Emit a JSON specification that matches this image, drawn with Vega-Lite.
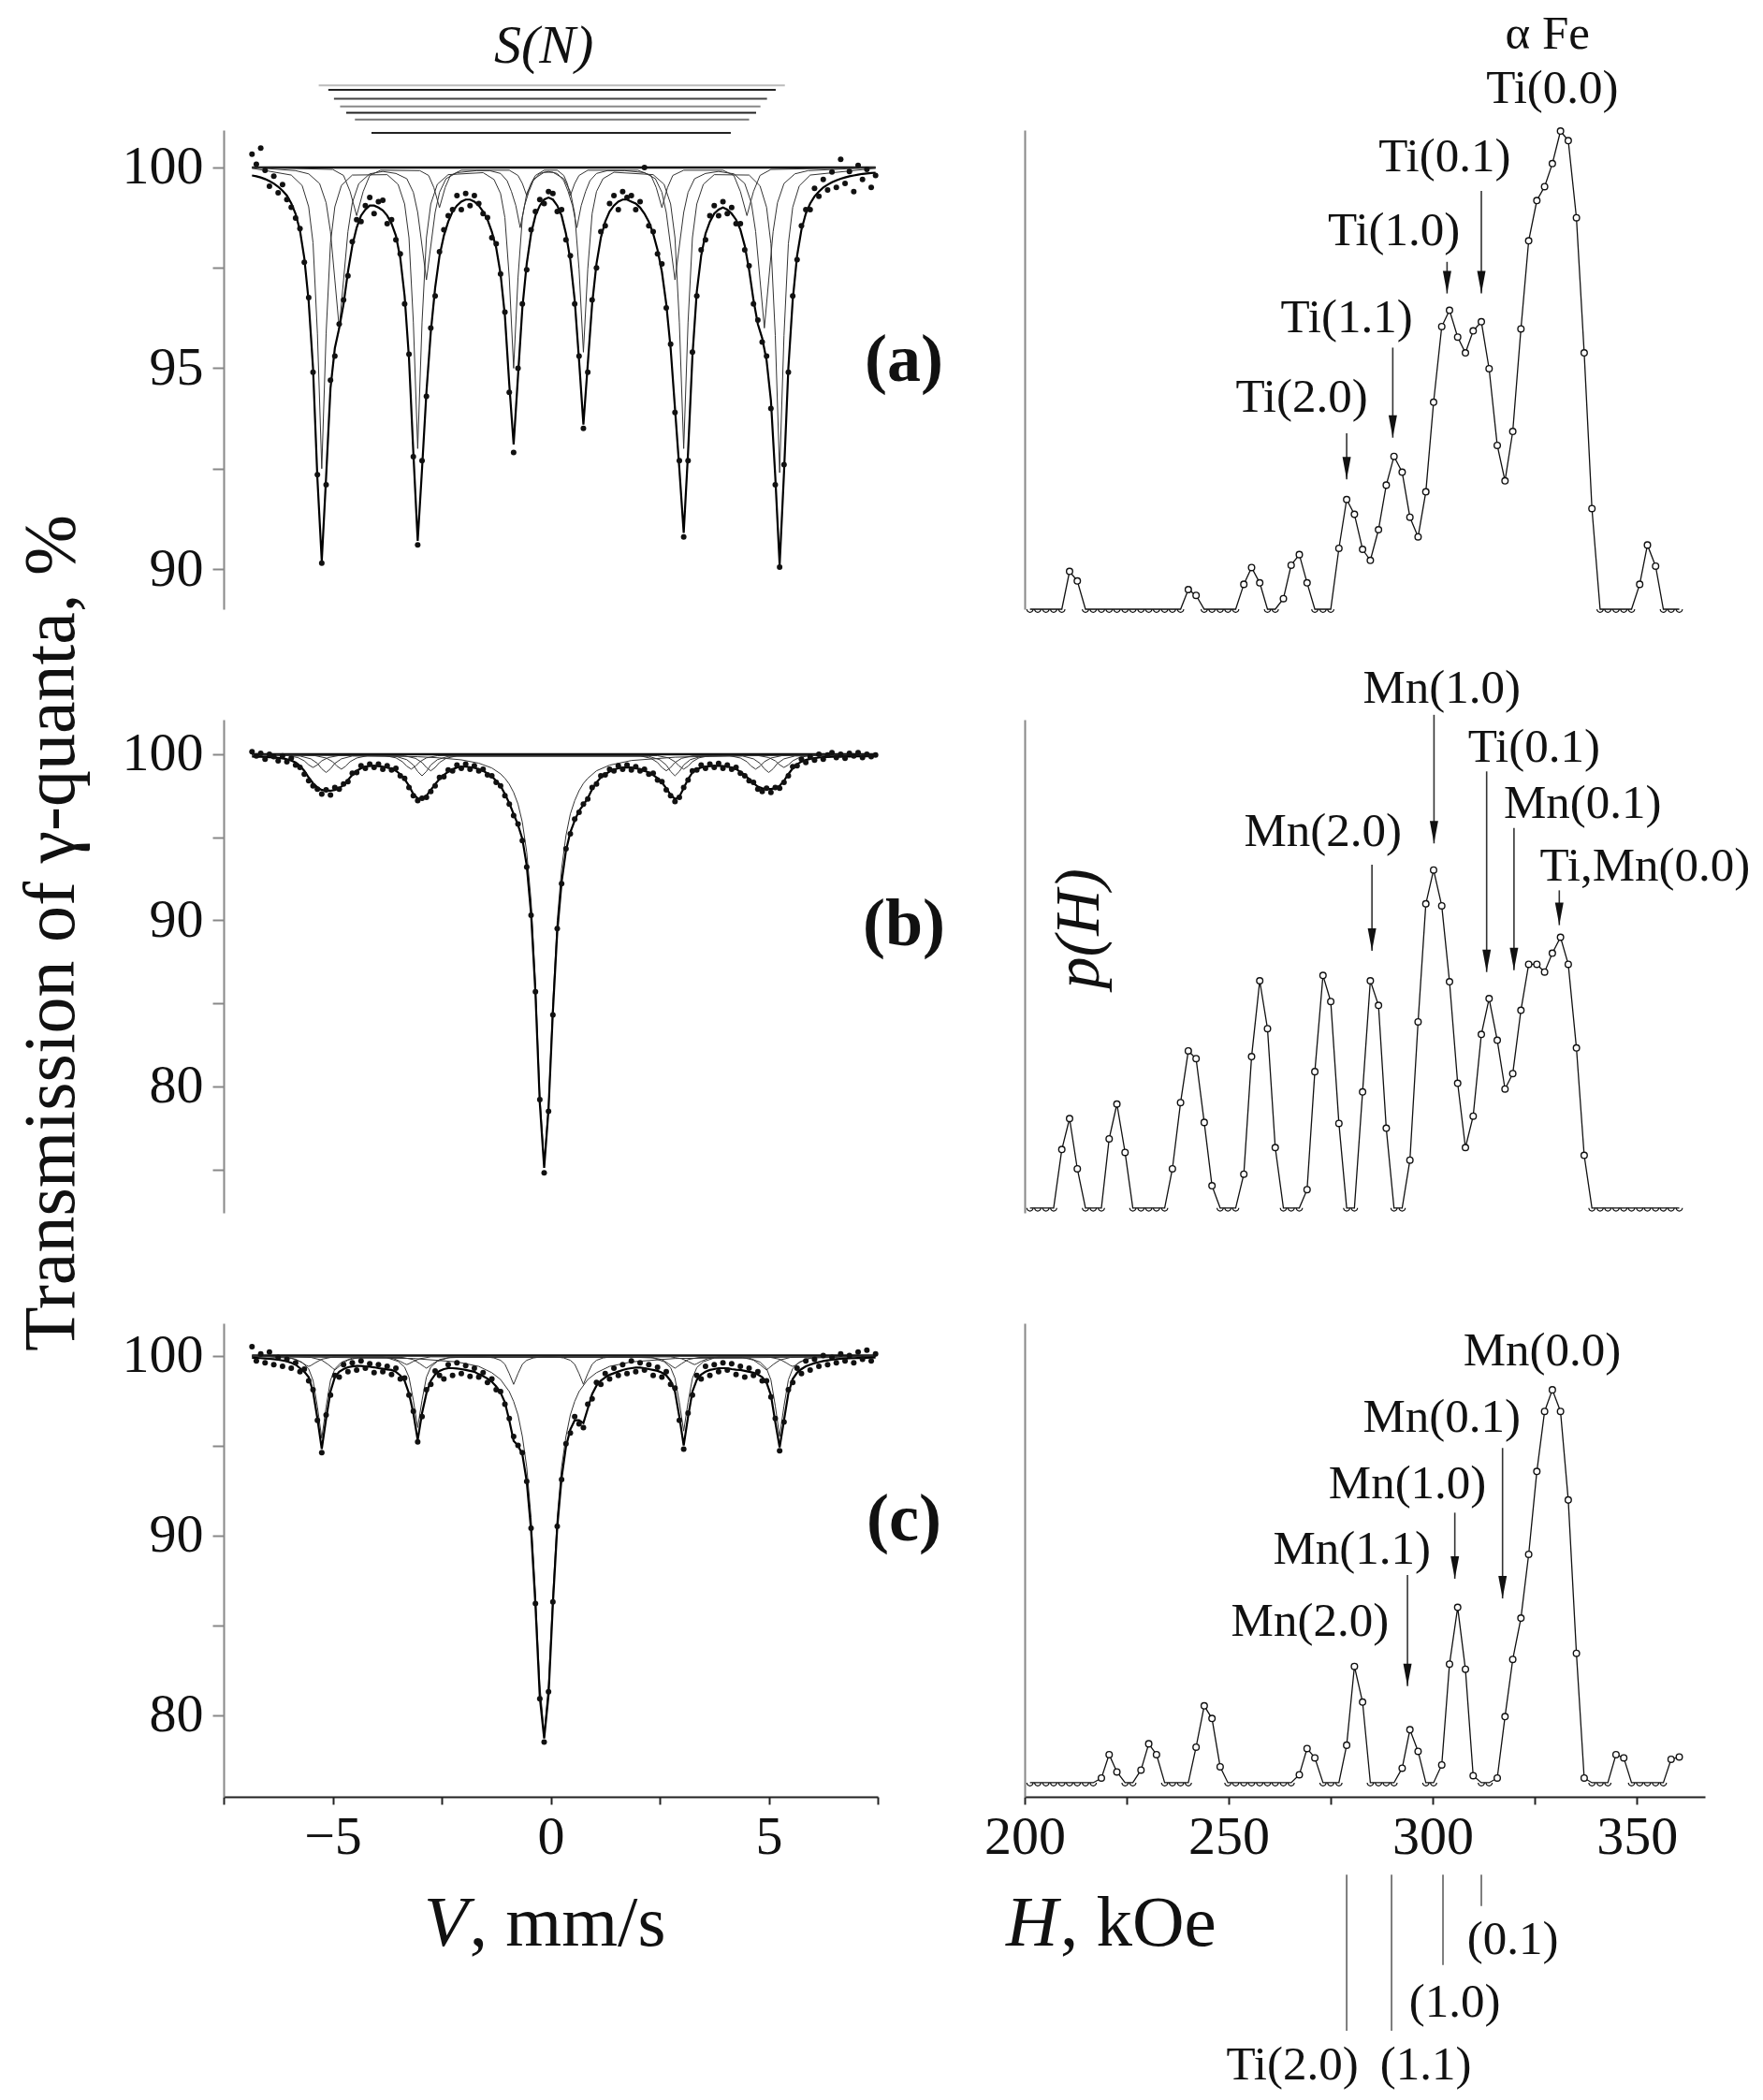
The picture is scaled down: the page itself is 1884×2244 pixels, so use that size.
{
"$schema": "https://vega.github.io/schema/vega-lite/v6.json",
"background": "white",
"padding": {"left": 16, "top": 11, "right": 5, "bottom": 5},
"bounds": "flush",
"columns": 2,
"spacing": {"row": 118, "column": 157},
"config": {"view": {"stroke": null}, "font": "Liberation Serif", "axis": {"labelFont": "Liberation Serif", "labelColor": "#111", "grid": false, "labelOverlap": false, "labelFlush": false}},
"datasets": {
"base": [{"v": -6.85, "v2": 7.45, "t": 100}],
"sn": [
{"v": -5.32, "v2": 5.37, "t": 102.04, "n": "L0"},
{"v": -5.10, "v2": 5.16, "t": 101.93, "n": "L1"},
{"v": -4.97, "v2": 4.96, "t": 101.71, "n": "L2"},
{"v": -4.83, "v2": 4.81, "t": 101.52, "n": "L3"},
{"v": -4.69, "v2": 4.71, "t": 101.36, "n": "L4"},
{"v": -4.49, "v2": 4.55, "t": 101.19, "n": "L5"},
{"v": -4.11, "v2": 4.13, "t": 100.86, "n": "L6"}
],
"spec_a": [
{"v":-6.85,"f":99.80,"o":100.33},{"v":-6.75,"f":99.78,"o":100.08},{"v":-6.65,"f":99.75,"o":100.48},{"v":-6.55,"f":99.71,"o":99.93},{"v":-6.45,"f":99.66,"o":99.53},{"v":-6.35,"f":99.60,"o":99.78},{"v":-6.25,"f":99.52,"o":99.37},{"v":-6.15,"f":99.42,"o":99.57},{"v":-6.05,"f":99.30,"o":99.20},{"v":-5.95,"f":99.11,"o":99.01},
{"v":-5.85,"f":98.84,"o":98.74},{"v":-5.75,"f":98.43,"o":98.48},{"v":-5.65,"f":97.74,"o":97.64},{"v":-5.55,"f":96.66,"o":96.76},{"v":-5.45,"f":95.00,"o":94.90},{"v":-5.35,"f":92.25,"o":92.35},{"v":-5.25,"f":90.20,"o":90.15},{"v":-5.15,"f":92.30,"o":92.10},{"v":-5.05,"f":94.50,"o":94.70},{"v":-4.95,"f":95.50,"o":95.30},
{"v":-4.85,"f":96.00,"o":96.10},{"v":-4.75,"f":96.60,"o":96.70},{"v":-4.65,"f":97.40,"o":97.30},{"v":-4.55,"f":98.05,"o":98.15},{"v":-4.45,"f":98.50,"o":98.70},{"v":-4.35,"f":98.80,"o":98.65},{"v":-4.25,"f":98.95,"o":99.05},{"v":-4.15,"f":99.05,"o":99.25},{"v":-4.05,"f":99.05,"o":98.85},{"v":-3.95,"f":99.00,"o":99.15},
{"v":-3.85,"f":98.93,"o":99.18},{"v":-3.75,"f":98.80,"o":98.60},{"v":-3.65,"f":98.60,"o":98.70},{"v":-3.55,"f":98.30,"o":98.20},{"v":-3.45,"f":97.75,"o":97.85},{"v":-3.35,"f":96.80,"o":96.60},{"v":-3.25,"f":95.25,"o":95.35},{"v":-3.15,"f":92.90,"o":92.80},{"v":-3.05,"f":90.70,"o":90.60},{"v":-2.95,"f":92.50,"o":92.70},
{"v":-2.85,"f":94.40,"o":94.30},{"v":-2.75,"f":95.90,"o":96.00},{"v":-2.65,"f":97.00,"o":96.80},{"v":-2.55,"f":97.80,"o":97.90},{"v":-2.45,"f":98.30,"o":98.45},{"v":-2.35,"f":98.65,"o":98.80},{"v":-2.25,"f":98.90,"o":98.95},{"v":-2.15,"f":99.05,"o":99.30},{"v":-2.05,"f":99.15,"o":98.95},{"v":-1.95,"f":99.20,"o":99.35},
{"v":-1.85,"f":99.20,"o":99.05},{"v":-1.75,"f":99.15,"o":99.30},{"v":-1.65,"f":99.05,"o":99.10},{"v":-1.55,"f":98.90,"o":98.85},{"v":-1.45,"f":98.70,"o":98.75},{"v":-1.35,"f":98.40,"o":98.25},{"v":-1.25,"f":98.00,"o":98.10},{"v":-1.15,"f":97.35,"o":97.35},{"v":-1.05,"f":96.30,"o":96.40},{"v":-0.95,"f":94.60,"o":94.40},
{"v":-0.85,"f":93.10,"o":92.90},{"v":-0.75,"f":94.80,"o":95.00},{"v":-0.65,"f":96.50,"o":96.60},{"v":-0.55,"f":97.60,"o":97.45},{"v":-0.45,"f":98.35,"o":98.45},{"v":-0.35,"f":98.80,"o":98.90},{"v":-0.25,"f":99.05,"o":99.20},{"v":-0.15,"f":99.20,"o":99.10},{"v":-0.05,"f":99.25,"o":99.40},{"v":0.05,"f":99.20,"o":99.35},
{"v":0.15,"f":99.05,"o":98.90},{"v":0.25,"f":98.80,"o":98.95},{"v":0.35,"f":98.35,"o":98.20},{"v":0.45,"f":97.70,"o":97.80},{"v":0.55,"f":96.70,"o":96.60},{"v":0.65,"f":95.20,"o":95.30},{"v":0.75,"f":93.60,"o":93.50},{"v":0.85,"f":95.10,"o":94.90},{"v":0.95,"f":96.60,"o":96.70},{"v":1.05,"f":97.60,"o":97.50},
{"v":1.15,"f":98.25,"o":98.40},{"v":1.25,"f":98.65,"o":98.55},{"v":1.35,"f":98.90,"o":99.10},{"v":1.45,"f":99.05,"o":99.30},{"v":1.55,"f":99.15,"o":98.95},{"v":1.65,"f":99.20,"o":99.40},{"v":1.75,"f":99.20,"o":99.25},{"v":1.85,"f":99.15,"o":99.30},{"v":1.95,"f":99.10,"o":98.95},{"v":2.05,"f":99.00,"o":99.15},
{"v":2.15,"f":98.85,"o":100.00},{"v":2.25,"f":98.65,"o":98.55},{"v":2.35,"f":98.35,"o":98.40},{"v":2.45,"f":97.95,"o":97.85},{"v":2.55,"f":97.40,"o":97.60},{"v":2.65,"f":96.60,"o":96.50},{"v":2.75,"f":95.50,"o":95.60},{"v":2.85,"f":94.00,"o":93.90},{"v":2.95,"f":92.50,"o":92.70},{"v":3.05,"f":90.90,"o":90.80},
{"v":3.15,"f":92.90,"o":92.70},{"v":3.25,"f":95.30,"o":95.40},{"v":3.35,"f":96.90,"o":96.80},{"v":3.45,"f":97.80,"o":97.95},{"v":3.55,"f":98.35,"o":98.20},{"v":3.65,"f":98.65,"o":98.80},{"v":3.75,"f":98.85,"o":99.05},{"v":3.85,"f":98.95,"o":98.80},{"v":3.95,"f":99.00,"o":99.15},{"v":4.05,"f":98.95,"o":98.85},
{"v":4.15,"f":98.85,"o":99.00},{"v":4.25,"f":98.70,"o":98.60},{"v":4.35,"f":98.45,"o":98.60},{"v":4.45,"f":98.05,"o":97.95},{"v":4.55,"f":97.45,"o":97.55},{"v":4.65,"f":96.70,"o":96.60},{"v":4.75,"f":96.10,"o":96.20},{"v":4.85,"f":95.75,"o":95.65},{"v":4.95,"f":95.20,"o":95.30},{"v":5.05,"f":94.20,"o":94.00},
{"v":5.15,"f":92.30,"o":92.10},{"v":5.25,"f":90.10,"o":90.05},{"v":5.35,"f":92.40,"o":92.60},{"v":5.45,"f":95.00,"o":94.90},{"v":5.55,"f":96.70,"o":96.80},{"v":5.65,"f":97.80,"o":97.70},{"v":5.75,"f":98.45,"o":98.55},{"v":5.85,"f":98.85,"o":98.95},{"v":5.95,"f":99.10,"o":98.95},{"v":6.05,"f":99.28,"o":99.48},
{"v":6.15,"f":99.40,"o":99.28},{"v":6.25,"f":99.50,"o":99.70},{"v":6.35,"f":99.57,"o":99.44},{"v":6.45,"f":99.63,"o":99.89},{"v":6.55,"f":99.68,"o":99.50},{"v":6.65,"f":99.72,"o":100.20},{"v":6.75,"f":99.75,"o":99.60},{"v":6.85,"f":99.78,"o":99.90},{"v":6.95,"f":99.80,"o":99.40},{"v":7.05,"f":99.82,"o":100.05},
{"v":7.15,"f":99.84,"o":99.70},{"v":7.25,"f":99.85,"o":99.95},{"v":7.35,"f":99.86,"o":99.50},{"v":7.45,"f":99.87,"o":99.80}
],
"sub_a": [
{"v":-6.85,"t":100,"c":"a1"},{"v":-5.85,"t":99.92,"c":"a1"},{"v":-5.55,"t":99.84,"c":"a1"},{"v":-5.3,"t":99.6,"c":"a1"},{"v":-5.15,"t":99.12,"c":"a1"},{"v":-5.05,"t":98.4,"c":"a1"},{"v":-4.95,"t":97.2,"c":"a1"},{"v":-4.85,"t":96.0,"c":"a1"},{"v":-4.75,"t":97.2,"c":"a1"},{"v":-4.65,"t":98.4,"c":"a1"},{"v":-4.55,"t":99.12,"c":"a1"},{"v":-4.4,"t":99.6,"c":"a1"},{"v":-4.15,"t":99.84,"c":"a1"},{"v":-3.85,"t":99.9,"c":"a1"},{"v":-3.55,"t":99.85,"c":"a1"},{"v":-3.3,"t":99.72,"c":"a1"},{"v":-3.15,"t":99.38,"c":"a1"},{"v":-3.05,"t":98.88,"c":"a1"},{"v":-2.95,"t":98.04,"c":"a1"},{"v":-2.85,"t":97.2,"c":"a1"},{"v":-2.75,"t":98.04,"c":"a1"},{"v":-2.65,"t":98.88,"c":"a1"},{"v":-2.55,"t":99.38,"c":"a1"},{"v":-2.4,"t":99.72,"c":"a1"},{"v":-2.15,"t":99.87,"c":"a1"},{"v":-1.7,"t":99.92,"c":"a1"},{"v":-1.4,"t":99.92,"c":"a1"},{"v":-1.15,"t":99.85,"c":"a1"},{"v":-1.0,"t":99.67,"c":"a1"},{"v":-0.9,"t":99.4,"c":"a1"},{"v":-0.8,"t":99.05,"c":"a1"},{"v":-0.7,"t":98.5,"c":"a1"},{"v":-0.6,"t":99.05,"c":"a1"},{"v":-0.5,"t":99.4,"c":"a1"},{"v":-0.4,"t":99.67,"c":"a1"},{"v":-0.25,"t":99.85,"c":"a1"},{"v":-0.05,"t":99.9,"c":"a1"},{"v":0.15,"t":99.85,"c":"a1"},{"v":0.3,"t":99.67,"c":"a1"},{"v":0.4,"t":99.4,"c":"a1"},{"v":0.5,"t":99.05,"c":"a1"},{"v":0.6,"t":98.5,"c":"a1"},{"v":0.7,"t":99.05,"c":"a1"},{"v":0.8,"t":99.4,"c":"a1"},{"v":0.9,"t":99.67,"c":"a1"},{"v":1.05,"t":99.85,"c":"a1"},{"v":1.3,"t":99.92,"c":"a1"},{"v":1.7,"t":99.92,"c":"a1"},{"v":2.15,"t":99.87,"c":"a1"},{"v":2.4,"t":99.72,"c":"a1"},{"v":2.55,"t":99.38,"c":"a1"},{"v":2.65,"t":98.88,"c":"a1"},{"v":2.75,"t":98.04,"c":"a1"},{"v":2.85,"t":97.2,"c":"a1"},{"v":2.95,"t":98.04,"c":"a1"},{"v":3.05,"t":98.88,"c":"a1"},{"v":3.15,"t":99.38,"c":"a1"},{"v":3.3,"t":99.72,"c":"a1"},{"v":3.55,"t":99.85,"c":"a1"},{"v":3.85,"t":99.9,"c":"a1"},{"v":4.2,"t":99.84,"c":"a1"},{"v":4.45,"t":99.6,"c":"a1"},{"v":4.6,"t":99.12,"c":"a1"},{"v":4.7,"t":98.4,"c":"a1"},{"v":4.8,"t":97.2,"c":"a1"},{"v":4.9,"t":96.0,"c":"a1"},{"v":5.0,"t":97.2,"c":"a1"},{"v":5.1,"t":98.4,"c":"a1"},{"v":5.2,"t":99.12,"c":"a1"},{"v":5.35,"t":99.6,"c":"a1"},{"v":5.6,"t":99.84,"c":"a1"},{"v":5.9,"t":99.92,"c":"a1"},{"v":7.45,"t":100,"c":"a1"},
{"v":-6.85,"t":100,"c":"a2"},{"v":-5.0,"t":99.95,"c":"a2"},{"v":-4.75,"t":99.8,"c":"a2"},{"v":-4.6,"t":99.4,"c":"a2"},{"v":-4.45,"t":98.8,"c":"a2"},{"v":-4.3,"t":99.4,"c":"a2"},{"v":-4.15,"t":99.8,"c":"a2"},{"v":-3.9,"t":99.93,"c":"a2"},{"v":-3.0,"t":99.92,"c":"a2"},{"v":-2.8,"t":99.8,"c":"a2"},{"v":-2.68,"t":99.5,"c":"a2"},{"v":-2.55,"t":99.0,"c":"a2"},{"v":-2.42,"t":99.5,"c":"a2"},{"v":-2.3,"t":99.8,"c":"a2"},{"v":-2.05,"t":99.93,"c":"a2"},{"v":-0.95,"t":99.93,"c":"a2"},{"v":-0.75,"t":99.8,"c":"a2"},{"v":-0.65,"t":99.6,"c":"a2"},{"v":-0.55,"t":99.3,"c":"a2"},{"v":-0.45,"t":99.6,"c":"a2"},{"v":-0.35,"t":99.8,"c":"a2"},{"v":-0.15,"t":99.93,"c":"a2"},{"v":0.15,"t":99.93,"c":"a2"},{"v":0.3,"t":99.8,"c":"a2"},{"v":0.38,"t":99.6,"c":"a2"},{"v":0.45,"t":99.3,"c":"a2"},{"v":0.55,"t":99.6,"c":"a2"},{"v":0.65,"t":99.8,"c":"a2"},{"v":0.85,"t":99.93,"c":"a2"},{"v":2.0,"t":99.93,"c":"a2"},{"v":2.3,"t":99.8,"c":"a2"},{"v":2.42,"t":99.5,"c":"a2"},{"v":2.55,"t":99.0,"c":"a2"},{"v":2.68,"t":99.5,"c":"a2"},{"v":2.8,"t":99.8,"c":"a2"},{"v":3.05,"t":99.93,"c":"a2"},{"v":3.95,"t":99.93,"c":"a2"},{"v":4.2,"t":99.8,"c":"a2"},{"v":4.35,"t":99.4,"c":"a2"},{"v":4.5,"t":98.8,"c":"a2"},{"v":4.65,"t":99.4,"c":"a2"},{"v":4.8,"t":99.8,"c":"a2"},{"v":5.05,"t":99.95,"c":"a2"},{"v":7.45,"t":100,"c":"a2"},
{"v":-6.85,"t":99.98,"c":"a3"},{"v":-5.95,"t":99.81,"c":"a3"},{"v":-5.7,"t":99.55,"c":"a3"},{"v":-5.55,"t":99.02,"c":"a3"},{"v":-5.45,"t":98.12,"c":"a3"},{"v":-5.35,"t":95.87,"c":"a3"},{"v":-5.25,"t":92.5,"c":"a3"},{"v":-5.15,"t":95.87,"c":"a3"},{"v":-5.05,"t":98.12,"c":"a3"},{"v":-4.95,"t":99.02,"c":"a3"},{"v":-4.8,"t":99.55,"c":"a3"},{"v":-4.55,"t":99.81,"c":"a3"},{"v":-3.75,"t":99.82,"c":"a3"},{"v":-3.5,"t":99.58,"c":"a3"},{"v":-3.35,"t":99.09,"c":"a3"},{"v":-3.25,"t":98.25,"c":"a3"},{"v":-3.15,"t":96.15,"c":"a3"},{"v":-3.05,"t":93.0,"c":"a3"},{"v":-2.95,"t":96.15,"c":"a3"},{"v":-2.85,"t":98.25,"c":"a3"},{"v":-2.75,"t":99.09,"c":"a3"},{"v":-2.6,"t":99.58,"c":"a3"},{"v":-2.35,"t":99.82,"c":"a3"},{"v":-1.55,"t":99.87,"c":"a3"},{"v":-1.3,"t":99.7,"c":"a3"},{"v":-1.15,"t":99.35,"c":"a3"},{"v":-1.05,"t":98.75,"c":"a3"},{"v":-0.95,"t":97.25,"c":"a3"},{"v":-0.85,"t":95.0,"c":"a3"},{"v":-0.75,"t":97.25,"c":"a3"},{"v":-0.65,"t":98.75,"c":"a3"},{"v":-0.55,"t":99.35,"c":"a3"},{"v":-0.4,"t":99.7,"c":"a3"},{"v":-0.15,"t":99.88,"c":"a3"},{"v":0.05,"t":99.88,"c":"a3"},{"v":0.3,"t":99.72,"c":"a3"},{"v":0.45,"t":99.4,"c":"a3"},{"v":0.55,"t":98.85,"c":"a3"},{"v":0.65,"t":97.47,"c":"a3"},{"v":0.75,"t":95.4,"c":"a3"},{"v":0.85,"t":97.47,"c":"a3"},{"v":0.95,"t":98.85,"c":"a3"},{"v":1.05,"t":99.4,"c":"a3"},{"v":1.2,"t":99.72,"c":"a3"},{"v":1.45,"t":99.88,"c":"a3"},{"v":2.35,"t":99.82,"c":"a3"},{"v":2.6,"t":99.58,"c":"a3"},{"v":2.75,"t":99.09,"c":"a3"},{"v":2.85,"t":98.25,"c":"a3"},{"v":2.95,"t":96.15,"c":"a3"},{"v":3.05,"t":93.0,"c":"a3"},{"v":3.15,"t":96.15,"c":"a3"},{"v":3.25,"t":98.25,"c":"a3"},{"v":3.35,"t":99.09,"c":"a3"},{"v":3.5,"t":99.58,"c":"a3"},{"v":3.75,"t":99.82,"c":"a3"},{"v":4.55,"t":99.81,"c":"a3"},{"v":4.8,"t":99.54,"c":"a3"},{"v":4.95,"t":99.01,"c":"a3"},{"v":5.05,"t":98.1,"c":"a3"},{"v":5.15,"t":95.82,"c":"a3"},{"v":5.25,"t":92.4,"c":"a3"},{"v":5.35,"t":95.82,"c":"a3"},{"v":5.45,"t":98.1,"c":"a3"},{"v":5.55,"t":99.01,"c":"a3"},{"v":5.7,"t":99.54,"c":"a3"},{"v":5.95,"t":99.81,"c":"a3"},{"v":7.45,"t":99.98,"c":"a3"}
],
"spec_b": [
{"v":-6.85,"f":99.86,"o":100.15},{"v":-6.75,"f":99.85,"o":99.90},{"v":-6.65,"f":99.84,"o":100.05},{"v":-6.55,"f":99.83,"o":99.70},{"v":-6.45,"f":99.82,"o":100.00},{"v":-6.35,"f":99.80,"o":99.85},{"v":-6.25,"f":99.78,"o":99.60},{"v":-6.15,"f":99.75,"o":99.90},{"v":-6.05,"f":99.70,"o":99.55},{"v":-5.95,"f":99.62,"o":99.75},
{"v":-5.85,"f":99.50,"o":99.35},{"v":-5.75,"f":99.30,"o":99.20},{"v":-5.65,"f":99.00,"o":98.80},{"v":-5.55,"f":98.60,"o":98.40},{"v":-5.45,"f":98.25,"o":98.10},{"v":-5.35,"f":98.00,"o":97.90},{"v":-5.25,"f":97.85,"o":97.60},{"v":-5.15,"f":97.80,"o":97.85},{"v":-5.05,"f":97.80,"o":97.55},{"v":-4.95,"f":97.85,"o":98.00},
{"v":-4.85,"f":97.95,"o":97.90},{"v":-4.75,"f":98.15,"o":98.20},{"v":-4.65,"f":98.45,"o":98.35},{"v":-4.55,"f":98.75,"o":98.85},{"v":-4.45,"f":99.00,"o":98.90},{"v":-4.35,"f":99.15,"o":99.30},{"v":-4.25,"f":99.25,"o":99.15},{"v":-4.15,"f":99.30,"o":99.40},{"v":-4.05,"f":99.30,"o":99.20},{"v":-3.95,"f":99.28,"o":99.40},
{"v":-3.85,"f":99.25,"o":99.10},{"v":-3.75,"f":99.20,"o":99.30},{"v":-3.65,"f":99.12,"o":99.05},{"v":-3.55,"f":99.00,"o":99.15},{"v":-3.45,"f":98.80,"o":98.70},{"v":-3.35,"f":98.50,"o":98.55},{"v":-3.25,"f":98.10,"o":98.00},{"v":-3.15,"f":97.60,"o":97.50},{"v":-3.05,"f":97.35,"o":97.20},{"v":-2.95,"f":97.30,"o":97.35},
{"v":-2.85,"f":97.50,"o":97.40},{"v":-2.75,"f":97.85,"o":97.75},{"v":-2.65,"f":98.20,"o":98.10},{"v":-2.55,"f":98.50,"o":98.60},{"v":-2.45,"f":98.75,"o":98.65},{"v":-2.35,"f":98.95,"o":99.05},{"v":-2.25,"f":99.10,"o":99.00},{"v":-2.15,"f":99.20,"o":99.35},{"v":-2.05,"f":99.25,"o":99.15},{"v":-1.95,"f":99.25,"o":99.40},
{"v":-1.85,"f":99.22,"o":99.10},{"v":-1.75,"f":99.18,"o":99.30},{"v":-1.65,"f":99.10,"o":99.00},{"v":-1.55,"f":99.00,"o":99.10},{"v":-1.45,"f":98.85,"o":98.75},{"v":-1.35,"f":98.65,"o":98.70},{"v":-1.25,"f":98.40,"o":98.30},{"v":-1.15,"f":98.10,"o":98.10},{"v":-1.05,"f":97.60,"o":97.50},{"v":-0.95,"f":97.05,"o":97.00},
{"v":-0.85,"f":96.40,"o":96.30},{"v":-0.75,"f":95.75,"o":95.80},{"v":-0.65,"f":94.90,"o":94.80},{"v":-0.55,"f":93.30,"o":93.20},{"v":-0.45,"f":90.40,"o":90.30},{"v":-0.35,"f":85.60,"o":85.70},{"v":-0.25,"f":79.00,"o":79.20},{"v":-0.15,"f":75.10,"o":74.80},{"v":-0.05,"f":78.60,"o":78.50},{"v":0.05,"f":84.50,"o":84.30},
{"v":0.15,"f":89.30,"o":89.50},{"v":0.25,"f":92.30,"o":92.20},{"v":0.35,"f":94.20,"o":94.30},{"v":0.45,"f":95.30,"o":95.20},{"v":0.55,"f":96.00,"o":96.10},{"v":0.65,"f":96.60,"o":96.50},{"v":0.75,"f":96.95,"o":97.00},{"v":0.85,"f":97.35,"o":97.30},{"v":0.95,"f":97.90,"o":98.00},{"v":1.05,"f":98.30,"o":98.20},
{"v":1.15,"f":98.60,"o":98.70},{"v":1.25,"f":98.80,"o":98.75},{"v":1.35,"f":98.95,"o":99.10},{"v":1.45,"f":99.08,"o":99.00},{"v":1.55,"f":99.15,"o":99.30},{"v":1.65,"f":99.20,"o":99.10},{"v":1.75,"f":99.20,"o":99.35},{"v":1.85,"f":99.20,"o":99.05},{"v":1.95,"f":99.15,"o":99.25},{"v":2.05,"f":99.10,"o":99.00},
{"v":2.15,"f":99.00,"o":99.10},{"v":2.25,"f":98.90,"o":98.80},{"v":2.35,"f":98.75,"o":98.85},{"v":2.45,"f":98.55,"o":98.45},{"v":2.55,"f":98.30,"o":98.35},{"v":2.65,"f":97.95,"o":97.85},{"v":2.75,"f":97.55,"o":97.50},{"v":2.85,"f":97.30,"o":97.15},{"v":2.95,"f":97.45,"o":97.40},{"v":3.05,"f":97.95,"o":98.00},
{"v":3.15,"f":98.50,"o":98.45},{"v":3.25,"f":98.90,"o":99.00},{"v":3.35,"f":99.10,"o":99.05},{"v":3.45,"f":99.20,"o":99.35},{"v":3.55,"f":99.25,"o":99.15},{"v":3.65,"f":99.28,"o":99.40},{"v":3.75,"f":99.30,"o":99.20},{"v":3.85,"f":99.30,"o":99.45},{"v":3.95,"f":99.28,"o":99.15},{"v":4.05,"f":99.25,"o":99.35},
{"v":4.15,"f":99.20,"o":99.10},{"v":4.25,"f":99.10,"o":99.20},{"v":4.35,"f":98.95,"o":98.85},{"v":4.45,"f":98.75,"o":98.70},{"v":4.55,"f":98.50,"o":98.40},{"v":4.65,"f":98.25,"o":98.30},{"v":4.75,"f":98.05,"o":97.90},{"v":4.85,"f":97.95,"o":97.75},{"v":4.95,"f":97.90,"o":97.95},{"v":5.05,"f":97.90,"o":97.70},
{"v":5.15,"f":97.95,"o":98.00},{"v":5.25,"f":98.10,"o":97.95},{"v":5.35,"f":98.40,"o":98.30},{"v":5.45,"f":98.80,"o":98.70},{"v":5.55,"f":99.15,"o":99.25},{"v":5.65,"f":99.40,"o":99.30},{"v":5.75,"f":99.55,"o":99.70},{"v":5.85,"f":99.65,"o":99.50},{"v":5.95,"f":99.72,"o":99.85},{"v":6.05,"f":99.76,"o":99.65},
{"v":6.15,"f":99.80,"o":100.00},{"v":6.25,"f":99.82,"o":99.70},{"v":6.35,"f":99.83,"o":99.95},{"v":6.45,"f":99.84,"o":100.10},{"v":6.55,"f":99.85,"o":99.80},{"v":6.65,"f":99.85,"o":100.00},{"v":6.75,"f":99.86,"o":99.75},{"v":6.85,"f":99.86,"o":100.05},{"v":6.95,"f":99.87,"o":99.90},{"v":7.05,"f":99.87,"o":100.10},
{"v":7.15,"f":99.88,"o":99.80},{"v":7.25,"f":99.88,"o":100.00},{"v":7.35,"f":99.88,"o":99.85},{"v":7.45,"f":99.89,"o":99.95}
],
"sub_b": [
{"v":-6.85,"t":99.95,"c":"s"},{"v":-4.05,"t":99.9,"c":"s"},{"v":-3.05,"t":99.85,"c":"s"},{"v":-2.55,"t":99.78,"c":"s"},{"v":-2.05,"t":99.66,"c":"s"},{"v":-1.65,"t":99.46,"c":"s"},{"v":-1.35,"t":99.17,"c":"s"},{"v":-1.15,"t":98.82,"c":"s"},{"v":-1.05,"t":98.55,"c":"s"},{"v":-0.95,"t":98.2,"c":"s"},{"v":-0.85,"t":97.7,"c":"s"},{"v":-0.75,"t":97.0,"c":"s"},{"v":-0.65,"t":95.9,"c":"s"},{"v":-0.55,"t":94.1,"c":"s"},{"v":-0.45,"t":91.2,"c":"s"},{"v":-0.35,"t":86.3,"c":"s"},{"v":-0.25,"t":79.5,"c":"s"},{"v":-0.15,"t":75.5,"c":"s"},{"v":-0.05,"t":78.9,"c":"s"},{"v":0.05,"t":85.1,"c":"s"},{"v":0.15,"t":90.0,"c":"s"},{"v":0.25,"t":93.1,"c":"s"},{"v":0.35,"t":95.1,"c":"s"},{"v":0.45,"t":96.4,"c":"s"},{"v":0.55,"t":97.2,"c":"s"},{"v":0.65,"t":97.8,"c":"s"},{"v":0.75,"t":98.24,"c":"s"},{"v":0.85,"t":98.55,"c":"s"},{"v":1.05,"t":99.0,"c":"s"},{"v":1.35,"t":99.34,"c":"s"},{"v":1.85,"t":99.62,"c":"s"},{"v":2.85,"t":99.82,"c":"s"},{"v":4.05,"t":99.9,"c":"s"},{"v":7.45,"t":99.95,"c":"s"},
{"v":-6.85,"t":99.97,"c":"b1"},{"v":-5.75,"t":99.89,"c":"b1"},{"v":-5.5,"t":99.72,"c":"b1"},{"v":-5.35,"t":99.45,"c":"b1"},{"v":-5.25,"t":99.12,"c":"b1"},{"v":-5.15,"t":98.9,"c":"b1"},{"v":-5.05,"t":99.12,"c":"b1"},{"v":-4.95,"t":99.45,"c":"b1"},{"v":-4.8,"t":99.72,"c":"b1"},{"v":-4.55,"t":99.89,"c":"b1"},{"v":-3.55,"t":99.87,"c":"b1"},{"v":-3.3,"t":99.67,"c":"b1"},{"v":-3.15,"t":99.35,"c":"b1"},{"v":-3.05,"t":98.96,"c":"b1"},{"v":-2.95,"t":98.7,"c":"b1"},{"v":-2.85,"t":98.96,"c":"b1"},{"v":-2.75,"t":99.35,"c":"b1"},{"v":-2.6,"t":99.67,"c":"b1"},{"v":-2.35,"t":99.87,"c":"b1"},{"v":2.25,"t":99.87,"c":"b1"},{"v":2.5,"t":99.67,"c":"b1"},{"v":2.65,"t":99.35,"c":"b1"},{"v":2.75,"t":98.96,"c":"b1"},{"v":2.85,"t":98.7,"c":"b1"},{"v":2.95,"t":98.96,"c":"b1"},{"v":3.05,"t":99.35,"c":"b1"},{"v":3.2,"t":99.67,"c":"b1"},{"v":3.45,"t":99.87,"c":"b1"},{"v":4.4,"t":99.89,"c":"b1"},{"v":4.65,"t":99.72,"c":"b1"},{"v":4.8,"t":99.45,"c":"b1"},{"v":4.9,"t":99.12,"c":"b1"},{"v":5.0,"t":98.9,"c":"b1"},{"v":5.1,"t":99.12,"c":"b1"},{"v":5.2,"t":99.45,"c":"b1"},{"v":5.35,"t":99.72,"c":"b1"},{"v":5.6,"t":99.89,"c":"b1"},{"v":7.45,"t":99.97,"c":"b1"},
{"v":-6.85,"t":99.98,"c":"b2"},{"v":-5.4,"t":99.91,"c":"b2"},{"v":-5.15,"t":99.77,"c":"b2"},{"v":-5.0,"t":99.55,"c":"b2"},{"v":-4.9,"t":99.28,"c":"b2"},{"v":-4.8,"t":99.1,"c":"b2"},{"v":-4.7,"t":99.28,"c":"b2"},{"v":-4.6,"t":99.55,"c":"b2"},{"v":-4.45,"t":99.77,"c":"b2"},{"v":-4.2,"t":99.91,"c":"b2"},{"v":-3.35,"t":99.9,"c":"b2"},{"v":-3.1,"t":99.75,"c":"b2"},{"v":-2.95,"t":99.5,"c":"b2"},{"v":-2.85,"t":99.2,"c":"b2"},{"v":-2.75,"t":99.0,"c":"b2"},{"v":-2.65,"t":99.2,"c":"b2"},{"v":-2.55,"t":99.5,"c":"b2"},{"v":-2.4,"t":99.75,"c":"b2"},{"v":-2.15,"t":99.9,"c":"b2"},{"v":2.05,"t":99.9,"c":"b2"},{"v":2.3,"t":99.75,"c":"b2"},{"v":2.45,"t":99.5,"c":"b2"},{"v":2.55,"t":99.2,"c":"b2"},{"v":2.65,"t":99.0,"c":"b2"},{"v":2.75,"t":99.2,"c":"b2"},{"v":2.85,"t":99.5,"c":"b2"},{"v":3.0,"t":99.75,"c":"b2"},{"v":3.25,"t":99.9,"c":"b2"},{"v":4.1,"t":99.91,"c":"b2"},{"v":4.35,"t":99.77,"c":"b2"},{"v":4.5,"t":99.55,"c":"b2"},{"v":4.6,"t":99.28,"c":"b2"},{"v":4.7,"t":99.1,"c":"b2"},{"v":4.8,"t":99.28,"c":"b2"},{"v":4.9,"t":99.55,"c":"b2"},{"v":5.05,"t":99.77,"c":"b2"},{"v":5.3,"t":99.91,"c":"b2"},{"v":7.45,"t":99.98,"c":"b2"},
{"v":-6.85,"t":99.98,"c":"b3"},{"v":-6.05,"t":99.92,"c":"b3"},{"v":-5.8,"t":99.8,"c":"b3"},{"v":-5.65,"t":99.6,"c":"b3"},{"v":-5.55,"t":99.36,"c":"b3"},{"v":-5.45,"t":99.2,"c":"b3"},{"v":-5.35,"t":99.36,"c":"b3"},{"v":-5.25,"t":99.6,"c":"b3"},{"v":-5.1,"t":99.8,"c":"b3"},{"v":-4.85,"t":99.92,"c":"b3"},{"v":-3.8,"t":99.91,"c":"b3"},{"v":-3.55,"t":99.78,"c":"b3"},{"v":-3.4,"t":99.55,"c":"b3"},{"v":-3.3,"t":99.28,"c":"b3"},{"v":-3.2,"t":99.1,"c":"b3"},{"v":-3.1,"t":99.28,"c":"b3"},{"v":-3.0,"t":99.55,"c":"b3"},{"v":-2.85,"t":99.78,"c":"b3"},{"v":-2.6,"t":99.91,"c":"b3"},{"v":2.45,"t":99.91,"c":"b3"},{"v":2.7,"t":99.78,"c":"b3"},{"v":2.85,"t":99.55,"c":"b3"},{"v":2.95,"t":99.28,"c":"b3"},{"v":3.05,"t":99.1,"c":"b3"},{"v":3.15,"t":99.28,"c":"b3"},{"v":3.25,"t":99.55,"c":"b3"},{"v":3.4,"t":99.78,"c":"b3"},{"v":3.65,"t":99.91,"c":"b3"},{"v":4.75,"t":99.92,"c":"b3"},{"v":5.0,"t":99.8,"c":"b3"},{"v":5.15,"t":99.6,"c":"b3"},{"v":5.25,"t":99.36,"c":"b3"},{"v":5.35,"t":99.2,"c":"b3"},{"v":5.45,"t":99.36,"c":"b3"},{"v":5.55,"t":99.6,"c":"b3"},{"v":5.7,"t":99.8,"c":"b3"},{"v":5.95,"t":99.92,"c":"b3"},{"v":7.45,"t":99.98,"c":"b3"}
],
"spec_c": [
{"v":-6.85,"f":99.88,"o":100.50},{"v":-6.75,"f":99.87,"o":99.70},{"v":-6.65,"f":99.86,"o":100.10},{"v":-6.55,"f":99.84,"o":99.60},{"v":-6.45,"f":99.82,"o":100.20},{"v":-6.35,"f":99.80,"o":99.50},{"v":-6.25,"f":99.77,"o":99.90},{"v":-6.15,"f":99.73,"o":99.40},{"v":-6.05,"f":99.68,"o":99.80},{"v":-5.95,"f":99.60,"o":99.30},
{"v":-5.85,"f":99.50,"o":99.60},{"v":-5.75,"f":99.30,"o":99.10},{"v":-5.65,"f":99.10,"o":99.25},{"v":-5.55,"f":98.80,"o":98.60},{"v":-5.45,"f":98.00,"o":98.10},{"v":-5.35,"f":96.50,"o":96.40},{"v":-5.25,"f":94.80,"o":94.60},{"v":-5.15,"f":96.50,"o":96.70},{"v":-5.05,"f":98.00,"o":97.80},{"v":-4.95,"f":98.80,"o":98.90},
{"v":-4.85,"f":99.10,"o":98.80},{"v":-4.75,"f":99.25,"o":99.50},{"v":-4.65,"f":99.35,"o":99.10},{"v":-4.55,"f":99.40,"o":99.60},{"v":-4.45,"f":99.42,"o":99.20},{"v":-4.35,"f":99.42,"o":99.70},{"v":-4.25,"f":99.40,"o":99.30},{"v":-4.15,"f":99.38,"o":99.55},{"v":-4.05,"f":99.35,"o":99.05},{"v":-3.95,"f":99.30,"o":99.50},
{"v":-3.85,"f":99.27,"o":99.10},{"v":-3.75,"f":99.23,"o":99.40},{"v":-3.65,"f":99.20,"o":98.95},{"v":-3.55,"f":99.10,"o":99.30},{"v":-3.45,"f":98.90,"o":98.70},{"v":-3.35,"f":98.60,"o":98.75},{"v":-3.25,"f":97.90,"o":97.80},{"v":-3.15,"f":96.80,"o":96.90},{"v":-3.05,"f":95.30,"o":95.20},{"v":-2.95,"f":96.80,"o":96.60},
{"v":-2.85,"f":97.90,"o":98.10},{"v":-2.75,"f":98.60,"o":98.40},{"v":-2.65,"f":98.95,"o":99.15},{"v":-2.55,"f":99.15,"o":98.90},{"v":-2.45,"f":99.25,"o":98.70},{"v":-2.35,"f":99.30,"o":99.50},{"v":-2.25,"f":99.30,"o":98.90},{"v":-2.15,"f":99.28,"o":99.60},{"v":-2.05,"f":99.25,"o":99.00},{"v":-1.95,"f":99.20,"o":99.45},
{"v":-1.85,"f":99.15,"o":98.85},{"v":-1.75,"f":99.10,"o":99.30},{"v":-1.65,"f":98.97,"o":98.80},{"v":-1.55,"f":98.86,"o":99.05},{"v":-1.45,"f":98.72,"o":98.50},{"v":-1.35,"f":98.54,"o":98.70},{"v":-1.25,"f":98.29,"o":98.10},{"v":-1.15,"f":97.94,"o":98.00},{"v":-1.05,"f":97.40,"o":97.30},{"v":-0.95,"f":96.40,"o":96.50},
{"v":-0.85,"f":95.25,"o":95.50},{"v":-0.75,"f":95.00,"o":95.00},{"v":-0.65,"f":94.50,"o":94.60},{"v":-0.55,"f":93.00,"o":93.00},{"v":-0.45,"f":90.30,"o":90.40},{"v":-0.35,"f":86.10,"o":86.20},{"v":-0.25,"f":81.00,"o":80.90},{"v":-0.15,"f":78.70,"o":78.50},{"v":-0.05,"f":81.10,"o":81.30},{"v":0.05,"f":86.17,"o":86.30},
{"v":0.15,"f":90.45,"o":90.50},{"v":0.25,"f":93.20,"o":93.10},{"v":0.35,"f":94.93,"o":95.10},{"v":0.45,"f":95.89,"o":95.70},{"v":0.55,"f":96.40,"o":96.60},{"v":0.65,"f":96.40,"o":96.20},{"v":0.75,"f":96.25,"o":96.00},{"v":0.85,"f":97.05,"o":97.30},{"v":0.95,"f":97.86,"o":97.60},{"v":1.05,"f":98.33,"o":98.50},
{"v":1.15,"f":98.61,"o":98.40},{"v":1.25,"f":98.79,"o":99.00},{"v":1.35,"f":98.93,"o":98.70},{"v":1.45,"f":99.02,"o":99.30},{"v":1.55,"f":99.11,"o":98.90},{"v":1.65,"f":99.20,"o":99.50},{"v":1.75,"f":99.26,"o":99.00},{"v":1.85,"f":99.30,"o":99.70},{"v":1.95,"f":99.33,"o":99.10},{"v":2.05,"f":99.33,"o":99.60},
{"v":2.15,"f":99.30,"o":99.20},{"v":2.25,"f":99.25,"o":99.50},{"v":2.35,"f":99.20,"o":98.90},{"v":2.45,"f":99.15,"o":99.35},{"v":2.55,"f":99.05,"o":98.80},{"v":2.65,"f":98.90,"o":99.10},{"v":2.75,"f":98.60,"o":98.40},{"v":2.85,"f":98.00,"o":98.20},{"v":2.95,"f":96.60,"o":96.40},{"v":3.05,"f":95.00,"o":94.80},
{"v":3.15,"f":96.60,"o":96.80},{"v":3.25,"f":98.00,"o":97.80},{"v":3.35,"f":98.65,"o":98.90},{"v":3.45,"f":98.95,"o":98.70},{"v":3.55,"f":99.10,"o":99.40},{"v":3.65,"f":99.20,"o":98.90},{"v":3.75,"f":99.25,"o":99.50},{"v":3.85,"f":99.30,"o":99.10},{"v":3.95,"f":99.30,"o":99.60},{"v":4.05,"f":99.30,"o":99.20},
{"v":4.15,"f":99.25,"o":99.55},{"v":4.25,"f":99.22,"o":98.95},{"v":4.35,"f":99.20,"o":99.40},{"v":4.45,"f":99.15,"o":98.80},{"v":4.55,"f":99.10,"o":99.30},{"v":4.65,"f":99.05,"o":98.90},{"v":4.75,"f":98.95,"o":99.10},{"v":4.85,"f":98.80,"o":98.60},{"v":4.95,"f":98.50,"o":98.60},{"v":5.05,"f":97.80,"o":97.70},
{"v":5.15,"f":96.30,"o":96.50},{"v":5.25,"f":94.90,"o":94.70},{"v":5.35,"f":96.40,"o":96.30},{"v":5.45,"f":97.90,"o":98.10},{"v":5.55,"f":98.70,"o":98.50},{"v":5.65,"f":99.05,"o":99.30},{"v":5.75,"f":99.25,"o":99.00},{"v":5.85,"f":99.40,"o":99.70},{"v":5.95,"f":99.50,"o":99.20},{"v":6.05,"f":99.58,"o":99.80},
{"v":6.15,"f":99.64,"o":99.40},{"v":6.25,"f":99.70,"o":100.00},{"v":6.35,"f":99.74,"o":99.50},{"v":6.45,"f":99.77,"o":99.90},{"v":6.55,"f":99.80,"o":99.60},{"v":6.65,"f":99.82,"o":100.10},{"v":6.75,"f":99.84,"o":99.70},{"v":6.85,"f":99.85,"o":100.00},{"v":6.95,"f":99.86,"o":99.60},{"v":7.05,"f":99.87,"o":100.20},
{"v":7.15,"f":99.88,"o":99.80},{"v":7.25,"f":99.88,"o":100.30},{"v":7.35,"f":99.89,"o":99.70},{"v":7.45,"f":99.89,"o":100.10}
],
"sub_c": [
{"v":-6.85,"t":99.96,"c":"s"},{"v":-3.15,"t":99.84,"c":"s"},{"v":-2.15,"t":99.65,"c":"s"},{"v":-1.65,"t":99.4,"c":"s"},{"v":-1.35,"t":99.05,"c":"s"},{"v":-1.15,"t":98.67,"c":"s"},{"v":-0.95,"t":98.0,"c":"s"},{"v":-0.85,"t":97.45,"c":"s"},{"v":-0.75,"t":96.7,"c":"s"},{"v":-0.65,"t":95.5,"c":"s"},{"v":-0.55,"t":93.8,"c":"s"},{"v":-0.45,"t":91.0,"c":"s"},{"v":-0.35,"t":86.8,"c":"s"},{"v":-0.25,"t":81.7,"c":"s"},{"v":-0.15,"t":79.0,"c":"s"},{"v":-0.05,"t":81.7,"c":"s"},{"v":0.05,"t":86.8,"c":"s"},{"v":0.15,"t":91.0,"c":"s"},{"v":0.25,"t":93.8,"c":"s"},{"v":0.35,"t":95.5,"c":"s"},{"v":0.45,"t":96.7,"c":"s"},{"v":0.55,"t":97.45,"c":"s"},{"v":0.65,"t":98.0,"c":"s"},{"v":0.85,"t":98.67,"c":"s"},{"v":1.05,"t":99.05,"c":"s"},{"v":1.35,"t":99.4,"c":"s"},{"v":1.85,"t":99.65,"c":"s"},{"v":2.85,"t":99.84,"c":"s"},{"v":7.45,"t":99.96,"c":"s"},
{"v":-6.85,"t":99.98,"c":"c1"},{"v":-5.95,"t":99.86,"c":"c1"},{"v":-5.7,"t":99.63,"c":"c1"},{"v":-5.55,"t":99.26,"c":"c1"},{"v":-5.45,"t":98.62,"c":"c1"},{"v":-5.35,"t":97.15,"c":"c1"},{"v":-5.25,"t":95.4,"c":"c1"},{"v":-5.15,"t":97.15,"c":"c1"},{"v":-5.05,"t":98.62,"c":"c1"},{"v":-4.95,"t":99.26,"c":"c1"},{"v":-4.8,"t":99.63,"c":"c1"},{"v":-4.55,"t":99.86,"c":"c1"},{"v":-3.75,"t":99.88,"c":"c1"},{"v":-3.5,"t":99.68,"c":"c1"},{"v":-3.35,"t":99.36,"c":"c1"},{"v":-3.25,"t":98.8,"c":"c1"},{"v":-3.15,"t":97.52,"c":"c1"},{"v":-3.05,"t":96.0,"c":"c1"},{"v":-2.95,"t":97.52,"c":"c1"},{"v":-2.85,"t":98.8,"c":"c1"},{"v":-2.75,"t":99.36,"c":"c1"},{"v":-2.6,"t":99.68,"c":"c1"},{"v":-2.35,"t":99.88,"c":"c1"},{"v":-1.55,"t":99.95,"c":"c1"},{"v":-1.3,"t":99.87,"c":"c1"},{"v":-1.15,"t":99.74,"c":"c1"},{"v":-1.05,"t":99.52,"c":"c1"},{"v":-0.95,"t":99.0,"c":"c1"},{"v":-0.85,"t":98.4,"c":"c1"},{"v":-0.75,"t":99.0,"c":"c1"},{"v":-0.65,"t":99.52,"c":"c1"},{"v":-0.55,"t":99.74,"c":"c1"},{"v":-0.4,"t":99.87,"c":"c1"},{"v":-0.15,"t":99.95,"c":"c1"},{"v":0.05,"t":99.95,"c":"c1"},{"v":0.3,"t":99.87,"c":"c1"},{"v":0.45,"t":99.74,"c":"c1"},{"v":0.55,"t":99.52,"c":"c1"},{"v":0.65,"t":99.0,"c":"c1"},{"v":0.75,"t":98.4,"c":"c1"},{"v":0.85,"t":99.0,"c":"c1"},{"v":0.95,"t":99.52,"c":"c1"},{"v":1.05,"t":99.74,"c":"c1"},{"v":1.2,"t":99.87,"c":"c1"},{"v":1.45,"t":99.95,"c":"c1"},{"v":2.35,"t":99.87,"c":"c1"},{"v":2.6,"t":99.66,"c":"c1"},{"v":2.75,"t":99.33,"c":"c1"},{"v":2.85,"t":98.74,"c":"c1"},{"v":2.95,"t":97.4,"c":"c1"},{"v":3.05,"t":95.8,"c":"c1"},{"v":3.15,"t":97.4,"c":"c1"},{"v":3.25,"t":98.74,"c":"c1"},{"v":3.35,"t":99.33,"c":"c1"},{"v":3.5,"t":99.66,"c":"c1"},{"v":3.75,"t":99.87,"c":"c1"},{"v":4.55,"t":99.86,"c":"c1"},{"v":4.8,"t":99.64,"c":"c1"},{"v":4.95,"t":99.28,"c":"c1"},{"v":5.05,"t":98.65,"c":"c1"},{"v":5.15,"t":97.2,"c":"c1"},{"v":5.25,"t":95.5,"c":"c1"},{"v":5.35,"t":97.2,"c":"c1"},{"v":5.45,"t":98.65,"c":"c1"},{"v":5.55,"t":99.28,"c":"c1"},{"v":5.7,"t":99.64,"c":"c1"},{"v":5.95,"t":99.86,"c":"c1"},{"v":7.45,"t":99.98,"c":"c1"},
{"v":-6.85,"t":99.98,"c":"c2"},{"v":-5.5,"t":99.9,"c":"c2"},{"v":-5.25,"t":99.75,"c":"c2"},{"v":-5.1,"t":99.5,"c":"c2"},{"v":-5.0,"t":99.3,"c":"c2"},{"v":-4.95,"t":99.2,"c":"c2"},{"v":-4.9,"t":99.3,"c":"c2"},{"v":-4.8,"t":99.5,"c":"c2"},{"v":-4.65,"t":99.75,"c":"c2"},{"v":-4.4,"t":99.9,"c":"c2"},{"v":-3.4,"t":99.9,"c":"c2"},{"v":-3.15,"t":99.78,"c":"c2"},{"v":-3.0,"t":99.55,"c":"c2"},{"v":-2.9,"t":99.38,"c":"c2"},{"v":-2.85,"t":99.3,"c":"c2"},{"v":-2.8,"t":99.38,"c":"c2"},{"v":-2.7,"t":99.55,"c":"c2"},{"v":-2.55,"t":99.78,"c":"c2"},{"v":-2.3,"t":99.9,"c":"c2"},{"v":2.3,"t":99.9,"c":"c2"},{"v":2.55,"t":99.78,"c":"c2"},{"v":2.7,"t":99.55,"c":"c2"},{"v":2.8,"t":99.38,"c":"c2"},{"v":2.85,"t":99.3,"c":"c2"},{"v":2.9,"t":99.38,"c":"c2"},{"v":3.0,"t":99.55,"c":"c2"},{"v":3.15,"t":99.78,"c":"c2"},{"v":3.4,"t":99.9,"c":"c2"},{"v":4.4,"t":99.9,"c":"c2"},{"v":4.65,"t":99.75,"c":"c2"},{"v":4.8,"t":99.5,"c":"c2"},{"v":4.9,"t":99.3,"c":"c2"},{"v":4.95,"t":99.2,"c":"c2"},{"v":5.0,"t":99.3,"c":"c2"},{"v":5.1,"t":99.5,"c":"c2"},{"v":5.25,"t":99.75,"c":"c2"},{"v":5.5,"t":99.9,"c":"c2"},{"v":7.45,"t":99.98,"c":"c2"},
{"v":-6.85,"t":99.98,"c":"c3"},{"v":-6.1,"t":99.92,"c":"c3"},{"v":-5.85,"t":99.8,"c":"c3"},{"v":-5.7,"t":99.6,"c":"c3"},{"v":-5.6,"t":99.45,"c":"c3"},{"v":-5.55,"t":99.4,"c":"c3"},{"v":-5.5,"t":99.45,"c":"c3"},{"v":-5.4,"t":99.6,"c":"c3"},{"v":-5.25,"t":99.8,"c":"c3"},{"v":-5.0,"t":99.92,"c":"c3"},{"v":-3.85,"t":99.93,"c":"c3"},{"v":-3.6,"t":99.83,"c":"c3"},{"v":-3.45,"t":99.68,"c":"c3"},{"v":-3.35,"t":99.55,"c":"c3"},{"v":-3.3,"t":99.5,"c":"c3"},{"v":-3.25,"t":99.55,"c":"c3"},{"v":-3.15,"t":99.68,"c":"c3"},{"v":-3.0,"t":99.83,"c":"c3"},{"v":-2.75,"t":99.93,"c":"c3"},{"v":2.75,"t":99.93,"c":"c3"},{"v":3.0,"t":99.83,"c":"c3"},{"v":3.15,"t":99.68,"c":"c3"},{"v":3.25,"t":99.55,"c":"c3"},{"v":3.3,"t":99.5,"c":"c3"},{"v":3.35,"t":99.55,"c":"c3"},{"v":3.45,"t":99.68,"c":"c3"},{"v":3.6,"t":99.83,"c":"c3"},{"v":3.85,"t":99.93,"c":"c3"},{"v":5.0,"t":99.92,"c":"c3"},{"v":5.25,"t":99.8,"c":"c3"},{"v":5.4,"t":99.6,"c":"c3"},{"v":5.5,"t":99.45,"c":"c3"},{"v":5.55,"t":99.4,"c":"c3"},{"v":5.6,"t":99.45,"c":"c3"},{"v":5.7,"t":99.6,"c":"c3"},{"v":5.85,"t":99.8,"c":"c3"},{"v":6.1,"t":99.92,"c":"c3"},{"v":7.45,"t":99.98,"c":"c3"}
],
"ph": [
{"h":201.3,"a":0,"b":0,"c":0},{"h":203.2,"a":0,"b":0,"c":0},{"h":205.2,"a":0,"b":0,"c":0},{"h":207.1,"a":0,"b":0,"c":0},{"h":209.1,"a":0,"b":0.121,"c":0},{"h":211.0,"a":0.079,"b":0.185,"c":0},{"h":212.9,"a":0.059,"b":0.081,"c":0},{"h":214.9,"a":0,"b":0,"c":0},{"h":216.8,"a":0,"b":0,"c":0},{"h":218.8,"a":0,"b":0,"c":0.01},
{"h":220.7,"a":0,"b":0.143,"c":0.06},{"h":222.6,"a":0,"b":0.215,"c":0.023},{"h":224.6,"a":0,"b":0.115,"c":0},{"h":226.5,"a":0,"b":0,"c":0},{"h":228.5,"a":0,"b":0,"c":0.027},{"h":230.4,"a":0,"b":0,"c":0.083},{"h":232.3,"a":0,"b":0,"c":0.06},{"h":234.3,"a":0,"b":0,"c":0},{"h":236.2,"a":0,"b":0.081,"c":0},{"h":238.2,"a":0,"b":0.218,"c":0},
{"h":240.1,"a":0.041,"b":0.325,"c":0},{"h":242.0,"a":0.029,"b":0.309,"c":0.076},{"h":244.0,"a":0,"b":0.177,"c":0.164},{"h":245.9,"a":0,"b":0.046,"c":0.137},{"h":247.9,"a":0,"b":0,"c":0.034},{"h":249.8,"a":0,"b":0,"c":0},{"h":251.7,"a":0,"b":0,"c":0},{"h":253.7,"a":0.052,"b":0.07,"c":0},{"h":255.6,"a":0.087,"b":0.313,"c":0},{"h":257.6,"a":0.055,"b":0.47,"c":0},
{"h":259.5,"a":0,"b":0.371,"c":0},{"h":261.4,"a":0,"b":0.125,"c":0},{"h":263.4,"a":0.022,"b":0,"c":0},{"h":265.3,"a":0.092,"b":0,"c":0},{"h":267.3,"a":0.114,"b":0,"c":0.017},{"h":269.2,"a":0.055,"b":0.038,"c":0.073},{"h":271.1,"a":0,"b":0.282,"c":0.053},{"h":273.1,"a":0,"b":0.481,"c":0},{"h":275.0,"a":0,"b":0.427,"c":0},{"h":277.0,"a":0.127,"b":0.175,"c":0},
{"h":278.9,"a":0.229,"b":0,"c":0.08},{"h":280.8,"a":0.198,"b":0,"c":0.248},{"h":282.8,"a":0.125,"b":0.24,"c":0.172},{"h":284.7,"a":0.102,"b":0.47,"c":0},{"h":286.7,"a":0.166,"b":0.419,"c":0},{"h":288.6,"a":0.259,"b":0.165,"c":0},{"h":290.5,"a":0.319,"b":0,"c":0},{"h":292.5,"a":0.286,"b":0,"c":0.031},{"h":294.4,"a":0.192,"b":0.099,"c":0.113},{"h":296.4,"a":0.151,"b":0.385,"c":0.067},
{"h":298.3,"a":0.245,"b":0.629,"c":0},{"h":300.2,"a":0.432,"b":0.699,"c":0},{"h":302.2,"a":0.59,"b":0.625,"c":0.038},{"h":304.1,"a":0.624,"b":0.468,"c":0.253},{"h":306.1,"a":0.568,"b":0.258,"c":0.374},{"h":308.0,"a":0.535,"b":0.125,"c":0.242},{"h":309.9,"a":0.581,"b":0.19,"c":0.015},{"h":311.9,"a":0.6,"b":0.359,"c":0},{"h":313.8,"a":0.502,"b":0.433,"c":0},{"h":315.8,"a":0.342,"b":0.347,"c":0.01},
{"h":317.7,"a":0.268,"b":0.246,"c":0.141},{"h":319.6,"a":0.371,"b":0.278,"c":0.263},{"h":321.6,"a":0.585,"b":0.409,"c":0.351},{"h":323.5,"a":0.769,"b":0.504,"c":0.487},{"h":325.5,"a":0.853,"b":0.504,"c":0.664},{"h":327.4,"a":0.882,"b":0.488,"c":0.792},{"h":329.3,"a":0.93,"b":0.527,"c":0.838},{"h":331.3,"a":0.998,"b":0.56,"c":0.792},{"h":333.2,"a":0.978,"b":0.504,"c":0.603},{"h":335.2,"a":0.817,"b":0.331,"c":0.276},
{"h":337.1,"a":0.535,"b":0.109,"c":0.01},{"h":339.0,"a":0.21,"b":0,"c":0},{"h":341.0,"a":0,"b":0,"c":0},{"h":342.9,"a":0,"b":0,"c":0},{"h":344.9,"a":0,"b":0,"c":0.06},{"h":346.8,"a":0,"b":0,"c":0.053},{"h":348.7,"a":0,"b":0,"c":0},{"h":350.7,"a":0.052,"b":0,"c":0},{"h":352.6,"a":0.134,"b":0,"c":0},{"h":354.6,"a":0.09,"b":0,"c":0},
{"h":356.5,"a":0,"b":0,"c":0},{"h":358.4,"a":0,"b":0,"c":0.05},{"h":360.4,"a":0,"b":0,"c":0.055}
],
"arr_a": [{"h":278.9,"p":0.367,"p2":0.271},{"h":290.2,"p":0.546,"p2":0.358},{"h":303.5,"p":0.725,"p2":0.659},{"h":311.9,"p":0.873,"p2":0.659}],
"head_a": [{"h":278.9,"p":0.271},{"h":290.2,"p":0.358},{"h":303.5,"p":0.659},{"h":311.9,"p":0.659}],
"lab_a": [{"h":328.1,"p":1.199,"s":"α Fe"},{"h":329.3,"p":1.085,"s":"Ti(0.0)"},{"h":302.9,"p":0.944,"s":"Ti(0.1)"},{"h":290.5,"p":0.79,"s":"Ti(1.0)"},{"h":278.9,"p":0.607,"s":"Ti(1.1)"},{"h":267.9,"p":0.441,"s":"Ti(2.0)"}],
"arr_b": [{"h":300.3,"p":1.02,"p2":0.754},{"h":313.2,"p":0.903,"p2":0.488},{"h":319.9,"p":0.786,"p2":0.492},{"h":331.0,"p":0.657,"p2":0.585},{"h":285.1,"p":0.71,"p2":0.532}],
"head_b": [{"h":300.3,"p":0.754},{"h":313.2,"p":0.488},{"h":319.9,"p":0.492},{"h":331.0,"p":0.585},{"h":285.1,"p":0.532}],
"lab_b": [{"h":302.2,"p":1.073,"s":"Mn(1.0)"},{"h":324.8,"p":0.952,"s":"Ti(0.1)"},{"h":336.7,"p":0.835,"s":"Mn(0.1)"},{"h":352.0,"p":0.706,"s":"Ti,Mn(0.0)"},{"h":273.1,"p":0.778,"s":"Mn(2.0)"}],
"arr_c": [{"h":317.1,"p":0.714,"p2":0.393},{"h":305.4,"p":0.576,"p2":0.435},{"h":293.8,"p":0.443,"p2":0.206}],
"head_c": [{"h":317.1,"p":0.393},{"h":305.4,"p":0.435},{"h":293.8,"p":0.206}],
"lab_c": [{"h":326.8,"p":0.92,"s":"Mn(0.0)"},{"h":302.2,"p":0.779,"s":"Mn(0.1)"},{"h":293.8,"p":0.637,"s":"Mn(1.0)"},{"h":280.2,"p":0.496,"s":"Mn(1.1)"},{"h":269.9,"p":0.344,"s":"Mn(2.0)"},{"h":319.6,"p":-0.335,"s":"(0.1)"},{"h":305.4,"p":-0.469,"s":"(1.0)"},{"h":265.6,"p":-0.603,"s":"Ti(2.0)"},{"h":298.3,"p":-0.603,"s":"(1.1)"}],
"bot_lines": [{"h":278.9,"p":-0.196,"p2":-0.529},{"h":289.9,"p":-0.196,"p2":-0.529},{"h":302.5,"p":-0.196,"p2":-0.389},{"h":311.9,"p":-0.196,"p2":-0.263}]
},
"concat": [
{
"width": 699, "height": 512,
"encoding": {
"x": {"field": "v", "type": "quantitative", "scale": {"domain": [-7.5, 7.5], "nice": false, "zero": false}, "axis": null},
"y": {"field": "t", "type": "quantitative", "scale": {"domain": [89.0, 100.93], "nice": false, "zero": false}, "axis": {"title": null, "values": [90, 92.5, 95, 97.5, 100], "labelExpr": "datum.value % 5 === 0 ? datum.label : ''", "domainColor": "#888", "domainWidth": 2, "tickColor": "#888", "tickWidth": 2, "tickSize": 12, "labelPadding": 10, "labelFontSize": 58}}
},
"layer": [
{"data": {"name": "base"}, "mark": {"type": "rule", "color": "#111", "strokeWidth": 2.5}, "encoding": {"x2": {"field": "v2"}}},
{"data": {"name": "sub_a"}, "mark": {"type": "line", "color": "#333", "strokeWidth": 1}, "encoding": {"detail": {"field": "c", "type": "nominal"}}},
{"data": {"name": "spec_a"}, "transform": [{"fold": ["f"], "as": ["k", "t"]}], "mark": {"type": "line", "color": "#000", "strokeWidth": 2.2}},
{"data": {"name": "spec_a"}, "transform": [{"fold": ["o"], "as": ["k", "t"]}], "mark": {"type": "point", "shape": "circle", "filled": true, "color": "#111", "size": 36, "opacity": 1}},
{"data": {"name": "sn"}, "mark": {"type": "rule", "strokeWidth": 2}, "encoding": {"x2": {"field": "v2"}, "color": {"field": "n", "type": "nominal", "scale": {"domain": ["L0","L1","L2","L3","L4","L5","L6"], "range": ["#bbb","#222","#444","#888","#222","#777","#222"]}, "legend": null}}},
{"data": {"values": [{"v": -0.16, "t": 103.0, "s": "S(N)"}]}, "mark": {"type": "text", "fontSize": 58, "fontStyle": "italic", "align": "center", "baseline": "middle", "color": "#111"}, "encoding": {"text": {"field": "s"}}},
{"data": {"values": [{"v": 8.1, "t": 95.2, "s": "(a)"}]}, "mark": {"type": "text", "fontSize": 72, "fontWeight": "bold", "align": "center", "baseline": "middle", "color": "#111"}, "encoding": {"text": {"field": "s"}}}
]
},
{
"width": 727, "height": 512,
"encoding": {
"x": {"field": "h", "type": "quantitative", "scale": {"domain": [200, 366.7], "nice": false, "zero": false}, "axis": null},
"y": {"field": "p", "type": "quantitative", "scale": {"domain": [0, 1], "nice": false, "zero": false}, "axis": {"title": null, "labels": false, "ticks": false, "domainColor": "#888", "domainWidth": 2}}
},
"layer": [
{"data": {"name": "ph"}, "transform": [{"fold": ["a"], "as": ["k", "p"]}], "mark": {"type": "line", "color": "#111", "strokeWidth": 1.3}},
{"data": {"name": "ph"}, "transform": [{"fold": ["a"], "as": ["k", "p"]}, {"filter": "datum.p > 0"}], "mark": {"type": "point", "shape": "circle", "filled": true, "fill": "white", "stroke": "#111", "strokeWidth": 1.4, "size": 44, "opacity": 1}},
{"data": {"name": "ph"}, "transform": [{"fold": ["a"], "as": ["k", "p"]}, {"filter": "datum.p === 0"}], "mark": {"type": "point", "shape": "M-1,0A1,1,0,0,0,1,0", "filled": false, "stroke": "#111", "strokeWidth": 1.2, "size": 44, "opacity": 1}},
{"data": {"name": "arr_a"}, "mark": {"type": "rule", "color": "#333", "strokeWidth": 1.6}, "encoding": {"y2": {"field": "p2"}}},
{"data": {"name": "head_a"}, "mark": {"type": "point", "shape": "M-0.375,-2L0.375,-2L0,0Z", "filled": true, "color": "#111", "size": 576, "opacity": 1}},
{"data": {"name": "lab_a"}, "mark": {"type": "text", "fontSize": 51, "align": "center", "baseline": "middle", "color": "#111"}, "encoding": {"text": {"field": "s"}}}
]
},
{
"width": 699, "height": 527,
"encoding": {
"x": {"field": "v", "type": "quantitative", "scale": {"domain": [-7.5, 7.5], "nice": false, "zero": false}, "axis": null},
"y": {"field": "t", "type": "quantitative", "scale": {"domain": [72.39, 102.08], "nice": false, "zero": false}, "axis": {"title": null, "values": [75, 80, 85, 90, 95, 100], "labelExpr": "datum.value % 10 === 0 ? datum.label : ''", "domainColor": "#888", "domainWidth": 2, "tickColor": "#888", "tickWidth": 2, "tickSize": 12, "labelPadding": 10, "labelFontSize": 58}}
},
"layer": [
{"data": {"name": "base"}, "mark": {"type": "rule", "color": "#111", "strokeWidth": 2.5}, "encoding": {"x2": {"field": "v2"}}},
{"data": {"name": "sub_b"}, "mark": {"type": "line", "color": "#333", "strokeWidth": 1}, "encoding": {"detail": {"field": "c", "type": "nominal"}}},
{"data": {"name": "spec_b"}, "transform": [{"fold": ["f"], "as": ["k", "t"]}], "mark": {"type": "line", "color": "#000", "strokeWidth": 2.2}},
{"data": {"name": "spec_b"}, "transform": [{"fold": ["o"], "as": ["k", "t"]}], "mark": {"type": "point", "shape": "circle", "filled": true, "color": "#111", "size": 36, "opacity": 1}},
{"data": {"values": [{"v": 8.1, "t": 89.74, "s": "(b)"}]}, "mark": {"type": "text", "fontSize": 72, "fontWeight": "bold", "align": "center", "baseline": "middle", "color": "#111"}, "encoding": {"text": {"field": "s"}}},
{"data": {"values": [{"v": -11.43, "t": 89.23, "s": "Transmission of γ-quanta, %"}]}, "mark": {"type": "text", "fontSize": 78, "angle": 270, "align": "center", "baseline": "middle", "color": "#111"}, "encoding": {"text": {"field": "s"}}}
]
},
{
"width": 727, "height": 527,
"encoding": {
"x": {"field": "h", "type": "quantitative", "scale": {"domain": [200, 366.7], "nice": false, "zero": false}, "axis": null},
"y": {"field": "p", "type": "quantitative", "scale": {"domain": [-0.01, 1.01], "nice": false, "zero": false}, "axis": {"title": null, "labels": false, "ticks": false, "domainColor": "#888", "domainWidth": 2}}
},
"layer": [
{"data": {"name": "ph"}, "transform": [{"fold": ["b"], "as": ["k", "p"]}], "mark": {"type": "line", "color": "#111", "strokeWidth": 1.3}},
{"data": {"name": "ph"}, "transform": [{"fold": ["b"], "as": ["k", "p"]}, {"filter": "datum.p > 0"}], "mark": {"type": "point", "shape": "circle", "filled": true, "fill": "white", "stroke": "#111", "strokeWidth": 1.4, "size": 44, "opacity": 1}},
{"data": {"name": "ph"}, "transform": [{"fold": ["b"], "as": ["k", "p"]}, {"filter": "datum.p === 0"}], "mark": {"type": "point", "shape": "M-1,0A1,1,0,0,0,1,0", "filled": false, "stroke": "#111", "strokeWidth": 1.2, "size": 44, "opacity": 1}},
{"data": {"name": "arr_b"}, "mark": {"type": "rule", "color": "#333", "strokeWidth": 1.6}, "encoding": {"y2": {"field": "p2"}}},
{"data": {"name": "head_b"}, "mark": {"type": "point", "shape": "M-0.375,-2L0.375,-2L0,0Z", "filled": true, "color": "#111", "size": 576, "opacity": 1}},
{"data": {"name": "lab_b"}, "mark": {"type": "text", "fontSize": 51, "align": "center", "baseline": "middle", "color": "#111"}, "encoding": {"text": {"field": "s"}}},
{"data": {"values": [{"h": 213.5, "p": 0.578, "s": "p(H)"}]}, "mark": {"type": "text", "fontSize": 68, "fontStyle": "italic", "angle": 270, "align": "center", "baseline": "middle", "color": "#111"}, "encoding": {"text": {"field": "s"}}}
]
},
{
"width": 699, "height": 506,
"encoding": {
"x": {"field": "v", "type": "quantitative", "scale": {"domain": [-7.5, 7.5], "nice": false, "zero": false}, "axis": {"title": null, "values": [-7.5, -5, -2.5, 0, 2.5, 5, 7.5], "labelExpr": "datum.value % 5 === 0 ? datum.label : ''", "domainColor": "#222", "domainWidth": 2, "tickColor": "#222", "tickWidth": 2, "tickSize": 8, "labelPadding": 6, "labelFontSize": 58}},
"y": {"field": "t", "type": "quantitative", "scale": {"domain": [75.45, 101.8], "nice": false, "zero": false}, "axis": {"title": null, "values": [80, 85, 90, 95, 100], "labelExpr": "datum.value % 10 === 0 ? datum.label : ''", "domainColor": "#888", "domainWidth": 2, "tickColor": "#888", "tickWidth": 2, "tickSize": 12, "labelPadding": 10, "labelFontSize": 58}}
},
"layer": [
{"data": {"name": "base"}, "mark": {"type": "rule", "color": "#111", "strokeWidth": 2.5}, "encoding": {"x2": {"field": "v2"}}},
{"data": {"name": "sub_c"}, "mark": {"type": "line", "color": "#333", "strokeWidth": 1}, "encoding": {"detail": {"field": "c", "type": "nominal"}}},
{"data": {"name": "spec_c"}, "transform": [{"fold": ["f"], "as": ["k", "t"]}], "mark": {"type": "line", "color": "#000", "strokeWidth": 2.2}},
{"data": {"name": "spec_c"}, "transform": [{"fold": ["o"], "as": ["k", "t"]}], "mark": {"type": "point", "shape": "circle", "filled": true, "color": "#111", "size": 36, "opacity": 1}},
{"data": {"values": [{"v": 8.1, "t": 90.87, "s": "(c)"}]}, "mark": {"type": "text", "fontSize": 72, "fontWeight": "bold", "align": "center", "baseline": "middle", "color": "#111"}, "encoding": {"text": {"field": "s"}}},
{"data": {"values": [{"v": -2.91, "t": 67.17, "s": "V"}]}, "mark": {"type": "text", "fontSize": 77, "fontStyle": "italic", "align": "left", "baseline": "alphabetic", "color": "#111"}, "encoding": {"text": {"field": "s"}}},
{"data": {"values": [{"v": -1.86, "t": 67.17, "s": ", mm/s"}]}, "mark": {"type": "text", "fontSize": 77, "align": "left", "baseline": "alphabetic", "color": "#111"}, "encoding": {"text": {"field": "s"}}}
]
},
{
"width": 727, "height": 506,
"encoding": {
"x": {"field": "h", "type": "quantitative", "scale": {"domain": [200, 366.7], "nice": false, "zero": false}, "axis": {"title": null, "values": [200, 225, 250, 275, 300, 325, 350], "labelExpr": "datum.value % 50 === 0 ? datum.label : ''", "domainColor": "#222", "domainWidth": 2, "tickColor": "#222", "tickWidth": 2, "tickSize": 8, "labelPadding": 6, "labelFontSize": 58}},
"y": {"field": "p", "type": "quantitative", "scale": {"domain": [-0.03, 0.98], "nice": false, "zero": false}, "axis": {"title": null, "labels": false, "ticks": false, "domainColor": "#888", "domainWidth": 2}}
},
"layer": [
{"data": {"name": "ph"}, "transform": [{"fold": ["c"], "as": ["k", "p"]}], "mark": {"type": "line", "color": "#111", "strokeWidth": 1.3}},
{"data": {"name": "ph"}, "transform": [{"fold": ["c"], "as": ["k", "p"]}, {"filter": "datum.p > 0"}], "mark": {"type": "point", "shape": "circle", "filled": true, "fill": "white", "stroke": "#111", "strokeWidth": 1.4, "size": 44, "opacity": 1}},
{"data": {"name": "ph"}, "transform": [{"fold": ["c"], "as": ["k", "p"]}, {"filter": "datum.p === 0"}], "mark": {"type": "point", "shape": "M-1,0A1,1,0,0,0,1,0", "filled": false, "stroke": "#111", "strokeWidth": 1.2, "size": 44, "opacity": 1}},
{"data": {"name": "arr_c"}, "mark": {"type": "rule", "color": "#333", "strokeWidth": 1.6}, "encoding": {"y2": {"field": "p2"}}},
{"data": {"name": "head_c"}, "mark": {"type": "point", "shape": "M-0.375,-2L0.375,-2L0,0Z", "filled": true, "color": "#111", "size": 576, "opacity": 1}},
{"data": {"name": "bot_lines"}, "mark": {"type": "rule", "color": "#555", "strokeWidth": 1.5}, "encoding": {"y2": {"field": "p2"}}},
{"data": {"name": "lab_c"}, "mark": {"type": "text", "fontSize": 51, "align": "center", "baseline": "middle", "color": "#111"}, "encoding": {"text": {"field": "s"}}},
{"data": {"values": [{"h": 195.4, "p": -0.347, "s": "H"}]}, "mark": {"type": "text", "fontSize": 77, "fontStyle": "italic", "align": "left", "baseline": "alphabetic", "color": "#111"}, "encoding": {"text": {"field": "s"}}},
{"data": {"values": [{"h": 208.7, "p": -0.347, "s": ", kOe"}]}, "mark": {"type": "text", "fontSize": 77, "align": "left", "baseline": "alphabetic", "color": "#111"}, "encoding": {"text": {"field": "s"}}}
]
}
]
}
